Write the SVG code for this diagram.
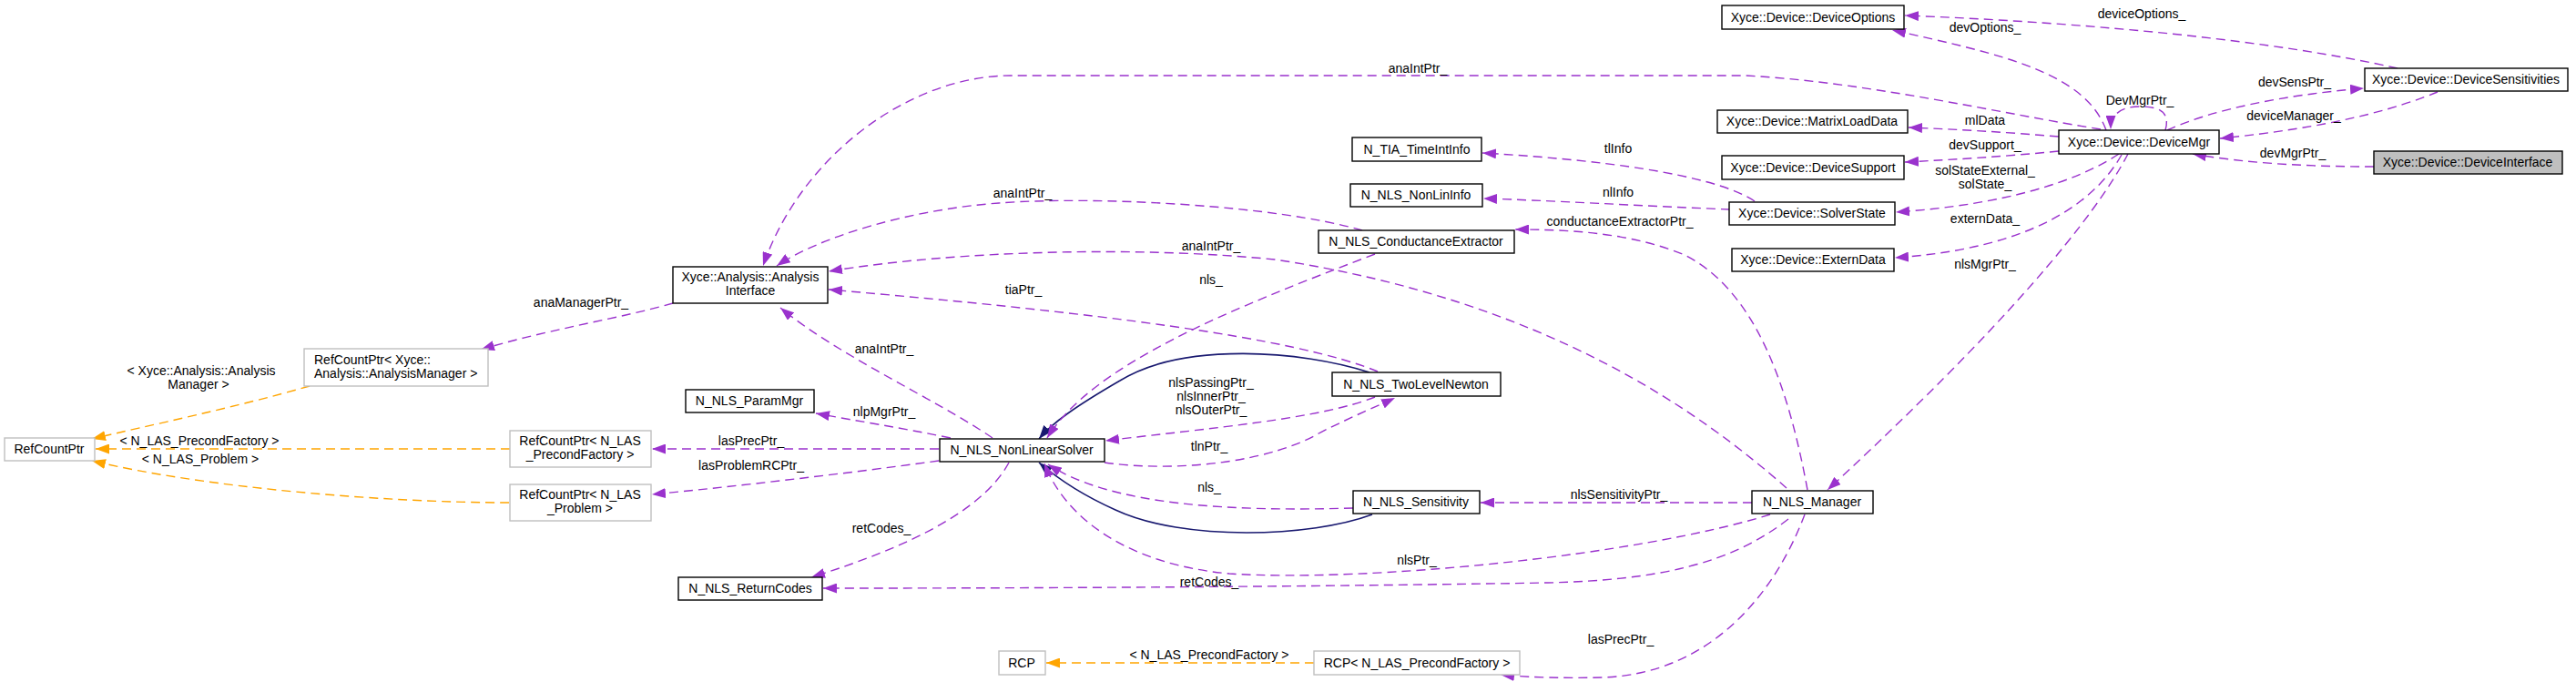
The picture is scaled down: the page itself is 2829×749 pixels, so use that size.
<svg xmlns="http://www.w3.org/2000/svg" width="2829" height="749" viewBox="0 0 2829 749">
<style>
text{font-family:"Liberation Sans",Arial,sans-serif;font-size:14px;fill:#000}
.n rect{fill:#fff;stroke:#000;stroke-width:1.4}
.g rect{fill:#fff;stroke:#bfbfbf;stroke-width:1.4}
.hl rect{fill:#bfbfbf;stroke:#000;stroke-width:1.4}
.c{text-anchor:middle}
.e{fill:none;stroke:#9a32cd;stroke-width:1.4;stroke-dasharray:10,6;marker-end:url(#ap)}
.o{fill:none;stroke:#ffa500;stroke-width:1.4;stroke-dasharray:10,6;marker-end:url(#ao)}
.i{fill:none;stroke:#191970;stroke-width:1.6;marker-end:url(#ai)}
</style>
<defs>
<marker id="ap" markerUnits="userSpaceOnUse" markerWidth="15" markerHeight="11" refX="15" refY="5.5" orient="auto"><path d="M0,0 L15,5.5 L0,11 z" fill="#9a32cd"/></marker>
<marker id="ao" markerUnits="userSpaceOnUse" markerWidth="15" markerHeight="11" refX="15" refY="5.5" orient="auto"><path d="M0,0 L15,5.5 L0,11 z" fill="#ffa500"/></marker>
<marker id="ai" markerUnits="userSpaceOnUse" markerWidth="15" markerHeight="11" refX="15" refY="5.5" orient="auto"><path d="M0,0 L15,5.5 L0,11 z" fill="#191970"/></marker>
</defs>
<rect width="2829" height="749" fill="#fff"/>
<g id="edges">
<path class="e" d="M739,333 C680,350 600,362 528,384"/>
<path class="o" d="M340,424 C260,447 160,468 101,482"/>
<path class="o" d="M560,493 L105,493"/>
<path class="o" d="M559,552 C420,552 220,535 101,506"/>
<path class="e" d="M1031,493 L716,493"/>
<path class="e" d="M1031,506 C930,520 800,535 716,543"/>
<path class="e" d="M1044,481 C990,470 940,462 896,454"/>
<path class="e" d="M1090,481 C1030,440 920,390 857,338"/>
<path class="e" d="M1108,508 C1080,560 1000,600 891,634"/>
<path class="i" d="M1504,409 C1430,385 1300,375 1230,418 C1180,447 1155,465 1141,482"/>
<path class="i" d="M1507,565 C1440,590 1300,595 1225,560 C1180,540 1155,520 1141,508"/>
<path class="e" d="M1510,436 C1450,460 1330,470 1214,484"/>
<path class="e" d="M1213,508 C1300,520 1400,505 1450,475 C1490,455 1515,445 1532,437"/>
<path class="e" d="M1513,408 C1420,370 1200,343 910,318"/>
<path class="e" d="M1510,279 C1350,340 1200,400 1150,481"/>
<path class="e" d="M1496,253 C1400,225 1200,215 1097,223 C1000,230 900,260 853,292"/>
<path class="e" d="M1927,221 C1880,190 1750,175 1628,168"/>
<path class="e" d="M1900,230 C1800,226 1700,220 1629,218"/>
<path class="e" d="M1985,538 C1965,430 1930,320 1850,280 C1790,255 1720,252 1664,252"/>
<path class="e" d="M1962,536 C1870,455 1700,330 1400,285 C1250,270 1050,275 910,298"/>
<path class="e" d="M1924,552 L1626,552"/>
<path class="e" d="M1944,565 C1800,610 1500,640 1350,630 C1240,620 1170,570 1147,509"/>
<path class="e" d="M1964,570 C1900,620 1820,637 1700,640 C1400,645 1100,646 904,646"/>
<path class="e" d="M1982,565 C1950,650 1880,740 1760,744 C1720,745 1680,744 1648,741"/>
<path class="o" d="M1443,728 L1149,728"/>
<path class="e" d="M2337,169 C2300,240 2200,360 2007,538"/>
<path class="e" d="M2313,143 C2290,80 2200,60 2078,33"/>
<path class="e" d="M2307,142 C2200,125 2050,90 1917,83 L1110,83 C1000,83 880,170 838,292"/>
<path class="e" d="M2261,150 C2200,145 2150,142 2096,140"/>
<path class="e" d="M2261,166 C2200,172 2150,175 2092,178"/>
<path class="e" d="M2327,169 C2280,200 2200,225 2082,233"/>
<path class="e" d="M2330,170 C2290,240 2200,275 2081,283"/>
<path class="e" d="M2378,143 C2384,122 2370,117 2350,117 C2330,117 2318,125 2318,142"/>
<path class="e" d="M2380,143 C2430,120 2510,104 2596,97"/>
<path class="e" d="M2677,101 C2630,120 2560,140 2438,152"/>
<path class="e" d="M2633,75 C2500,45 2300,25 2092,17"/>
<path class="e" d="M2607,183 C2540,183 2470,180 2408,169"/>
<path class="e" d="M1486,558 C1350,562 1220,555 1151,510"/>
</g>
<g id="edge-labels">
<text class="c" x="638" y="337">anaManagerPtr_</text>
<text class="c" x="221" y="412">&lt; Xyce::Analysis::Analysis</text>
<text class="c" x="218" y="427">Manager &gt;</text>
<text class="c" x="219" y="489">&lt; N_LAS_PrecondFactory &gt;</text>
<text class="c" x="220" y="509">&lt; N_LAS_Problem &gt;</text>
<text class="c" x="825" y="489">lasPrecPtr_</text>
<text class="c" x="825" y="516">lasProblemRCPtr_</text>
<text class="c" x="971" y="457">nlpMgrPtr_</text>
<text class="c" x="971" y="388">anaIntPtr_</text>
<text class="c" x="968" y="585">retCodes_</text>
<text class="c" x="1330" y="425">nlsPassingPtr_</text>
<text class="c" x="1330" y="440">nlsInnerPtr_</text>
<text class="c" x="1330" y="455">nlsOuterPtr_</text>
<text class="c" x="1328" y="495">tlnPtr_</text>
<text class="c" x="1328" y="540">nls_</text>
<text class="c" x="1556" y="620">nlsPtr_</text>
<text class="c" x="1328" y="644">retCodes_</text>
<text class="c" x="1328" y="724">&lt; N_LAS_PrecondFactory &gt;</text>
<text class="c" x="1124" y="323">tiaPtr_</text>
<text class="c" x="1123" y="217">anaIntPtr_</text>
<text class="c" x="1330" y="312">nls_</text>
<text class="c" x="1330" y="275">anaIntPtr_</text>
<text class="c" x="1777" y="168">tlInfo</text>
<text class="c" x="1777" y="216">nlInfo</text>
<text class="c" x="1779" y="248">conductanceExtractorPtr_</text>
<text class="c" x="1778" y="548">nlsSensitivityPtr_</text>
<text class="c" x="1780" y="707">lasPrecPtr_</text>
<text class="c" x="1557" y="80">anaIntPtr_</text>
<text class="c" x="2180" y="35">devOptions_</text>
<text class="c" x="2180" y="137">mlData</text>
<text class="c" x="2180" y="164">devSupport_</text>
<text class="c" x="2180" y="192">solStateExternal_</text>
<text class="c" x="2180" y="207">solState_</text>
<text class="c" x="2180" y="245">externData_</text>
<text class="c" x="2180" y="295">nlsMgrPtr_</text>
<text class="c" x="2352" y="20">deviceOptions_</text>
<text class="c" x="2520" y="95">devSensPtr_</text>
<text class="c" x="2350" y="115">DevMgrPtr_</text>
<text class="c" x="2519" y="132">deviceManager_</text>
<text class="c" x="2518" y="173">devMgrPtr_</text>
</g>
<g id="n-deviceoptions" class="n"><rect x="1891" y="6" width="200" height="26"/><text class="c" x="1991" y="24">Xyce::Device::DeviceOptions</text></g>
<g id="n-devicesensitivities" class="n"><rect x="2597" y="75" width="223" height="25"/><text class="c" x="2708" y="92">Xyce::Device::DeviceSensitivities</text></g>
<g id="n-devicemgr" class="n"><rect x="2261" y="143" width="176" height="26"/><text class="c" x="2349" y="161">Xyce::Device::DeviceMgr</text></g>
<g id="n-matrixloaddata" class="n"><rect x="1886" y="121" width="209" height="25"/><text class="c" x="1990" y="138">Xyce::Device::MatrixLoadData</text></g>
<g id="n-devicesupport" class="n"><rect x="1891" y="171" width="200" height="26"/><text class="c" x="1991" y="189">Xyce::Device::DeviceSupport</text></g>
<g id="n-deviceinterface" class="hl"><rect x="2607" y="166" width="207" height="25"/><text class="c" x="2710" y="183">Xyce::Device::DeviceInterface</text></g>
<g id="n-solverstate" class="n"><rect x="1899" y="222" width="182" height="25"/><text class="c" x="1990" y="239">Xyce::Device::SolverState</text></g>
<g id="n-externdata" class="n"><rect x="1902" y="273" width="178" height="25"/><text class="c" x="1991" y="290">Xyce::Device::ExternData</text></g>
<g id="n-timeintinfo" class="n"><rect x="1485" y="151" width="142" height="26"/><text class="c" x="1556" y="169">N_TIA_TimeIntInfo</text></g>
<g id="n-nonlininfo" class="n"><rect x="1483" y="202" width="145" height="25"/><text class="c" x="1555" y="219">N_NLS_NonLinInfo</text></g>
<g id="n-conductanceextractor" class="n"><rect x="1448" y="253" width="215" height="25"/><text class="c" x="1555" y="270">N_NLS_ConductanceExtractor</text></g>
<g id="n-analysisinterface" class="n"><rect x="739" y="293" width="170" height="40"/><text class="c" x="824" y="309">Xyce::Analysis::Analysis</text><text class="c" x="824" y="324">Interface</text></g>
<g id="n-rcp-analysismanager" class="g"><rect x="334" y="383" width="202" height="41"/><text x="345" y="400">RefCountPtr&lt; Xyce::</text><text x="345" y="415">Analysis::AnalysisManager &gt;</text></g>
<g id="n-parammgr" class="n"><rect x="753" y="428" width="141" height="25"/><text class="c" x="823" y="445">N_NLS_ParamMgr</text></g>
<g id="n-twolevelnewton" class="n"><rect x="1463" y="409" width="185" height="26"/><text class="c" x="1555" y="427">N_NLS_TwoLevelNewton</text></g>
<g id="n-nonlinearsolver" class="n"><rect x="1032" y="482" width="181" height="25"/><text class="c" x="1122" y="499">N_NLS_NonLinearSolver</text></g>
<g id="n-refcountptr" class="g"><rect x="5" y="481" width="99" height="25"/><text class="c" x="54" y="498">RefCountPtr</text></g>
<g id="n-rcp-precondfactory" class="g"><rect x="560" y="473" width="155" height="40"/><text class="c" x="637" y="489">RefCountPtr&lt; N_LAS</text><text class="c" x="637" y="504">_PrecondFactory &gt;</text></g>
<g id="n-rcp-problem" class="g"><rect x="560" y="532" width="155" height="40"/><text class="c" x="637" y="548">RefCountPtr&lt; N_LAS</text><text class="c" x="637" y="563">_Problem &gt;</text></g>
<g id="n-sensitivity" class="n"><rect x="1486" y="539" width="139" height="25"/><text class="c" x="1555" y="556">N_NLS_Sensitivity</text></g>
<g id="n-manager" class="n"><rect x="1924" y="539" width="133" height="25"/><text class="c" x="1990" y="556">N_NLS_Manager</text></g>
<g id="n-returncodes" class="n"><rect x="745" y="634" width="158" height="25"/><text class="c" x="824" y="651">N_NLS_ReturnCodes</text></g>
<g id="n-rcp" class="g"><rect x="1097" y="715" width="51" height="26"/><text class="c" x="1122" y="733">RCP</text></g>
<g id="n-rcp-precond" class="g"><rect x="1443" y="715" width="226" height="26"/><text class="c" x="1556" y="733">RCP&lt; N_LAS_PrecondFactory &gt;</text></g>
</svg>
